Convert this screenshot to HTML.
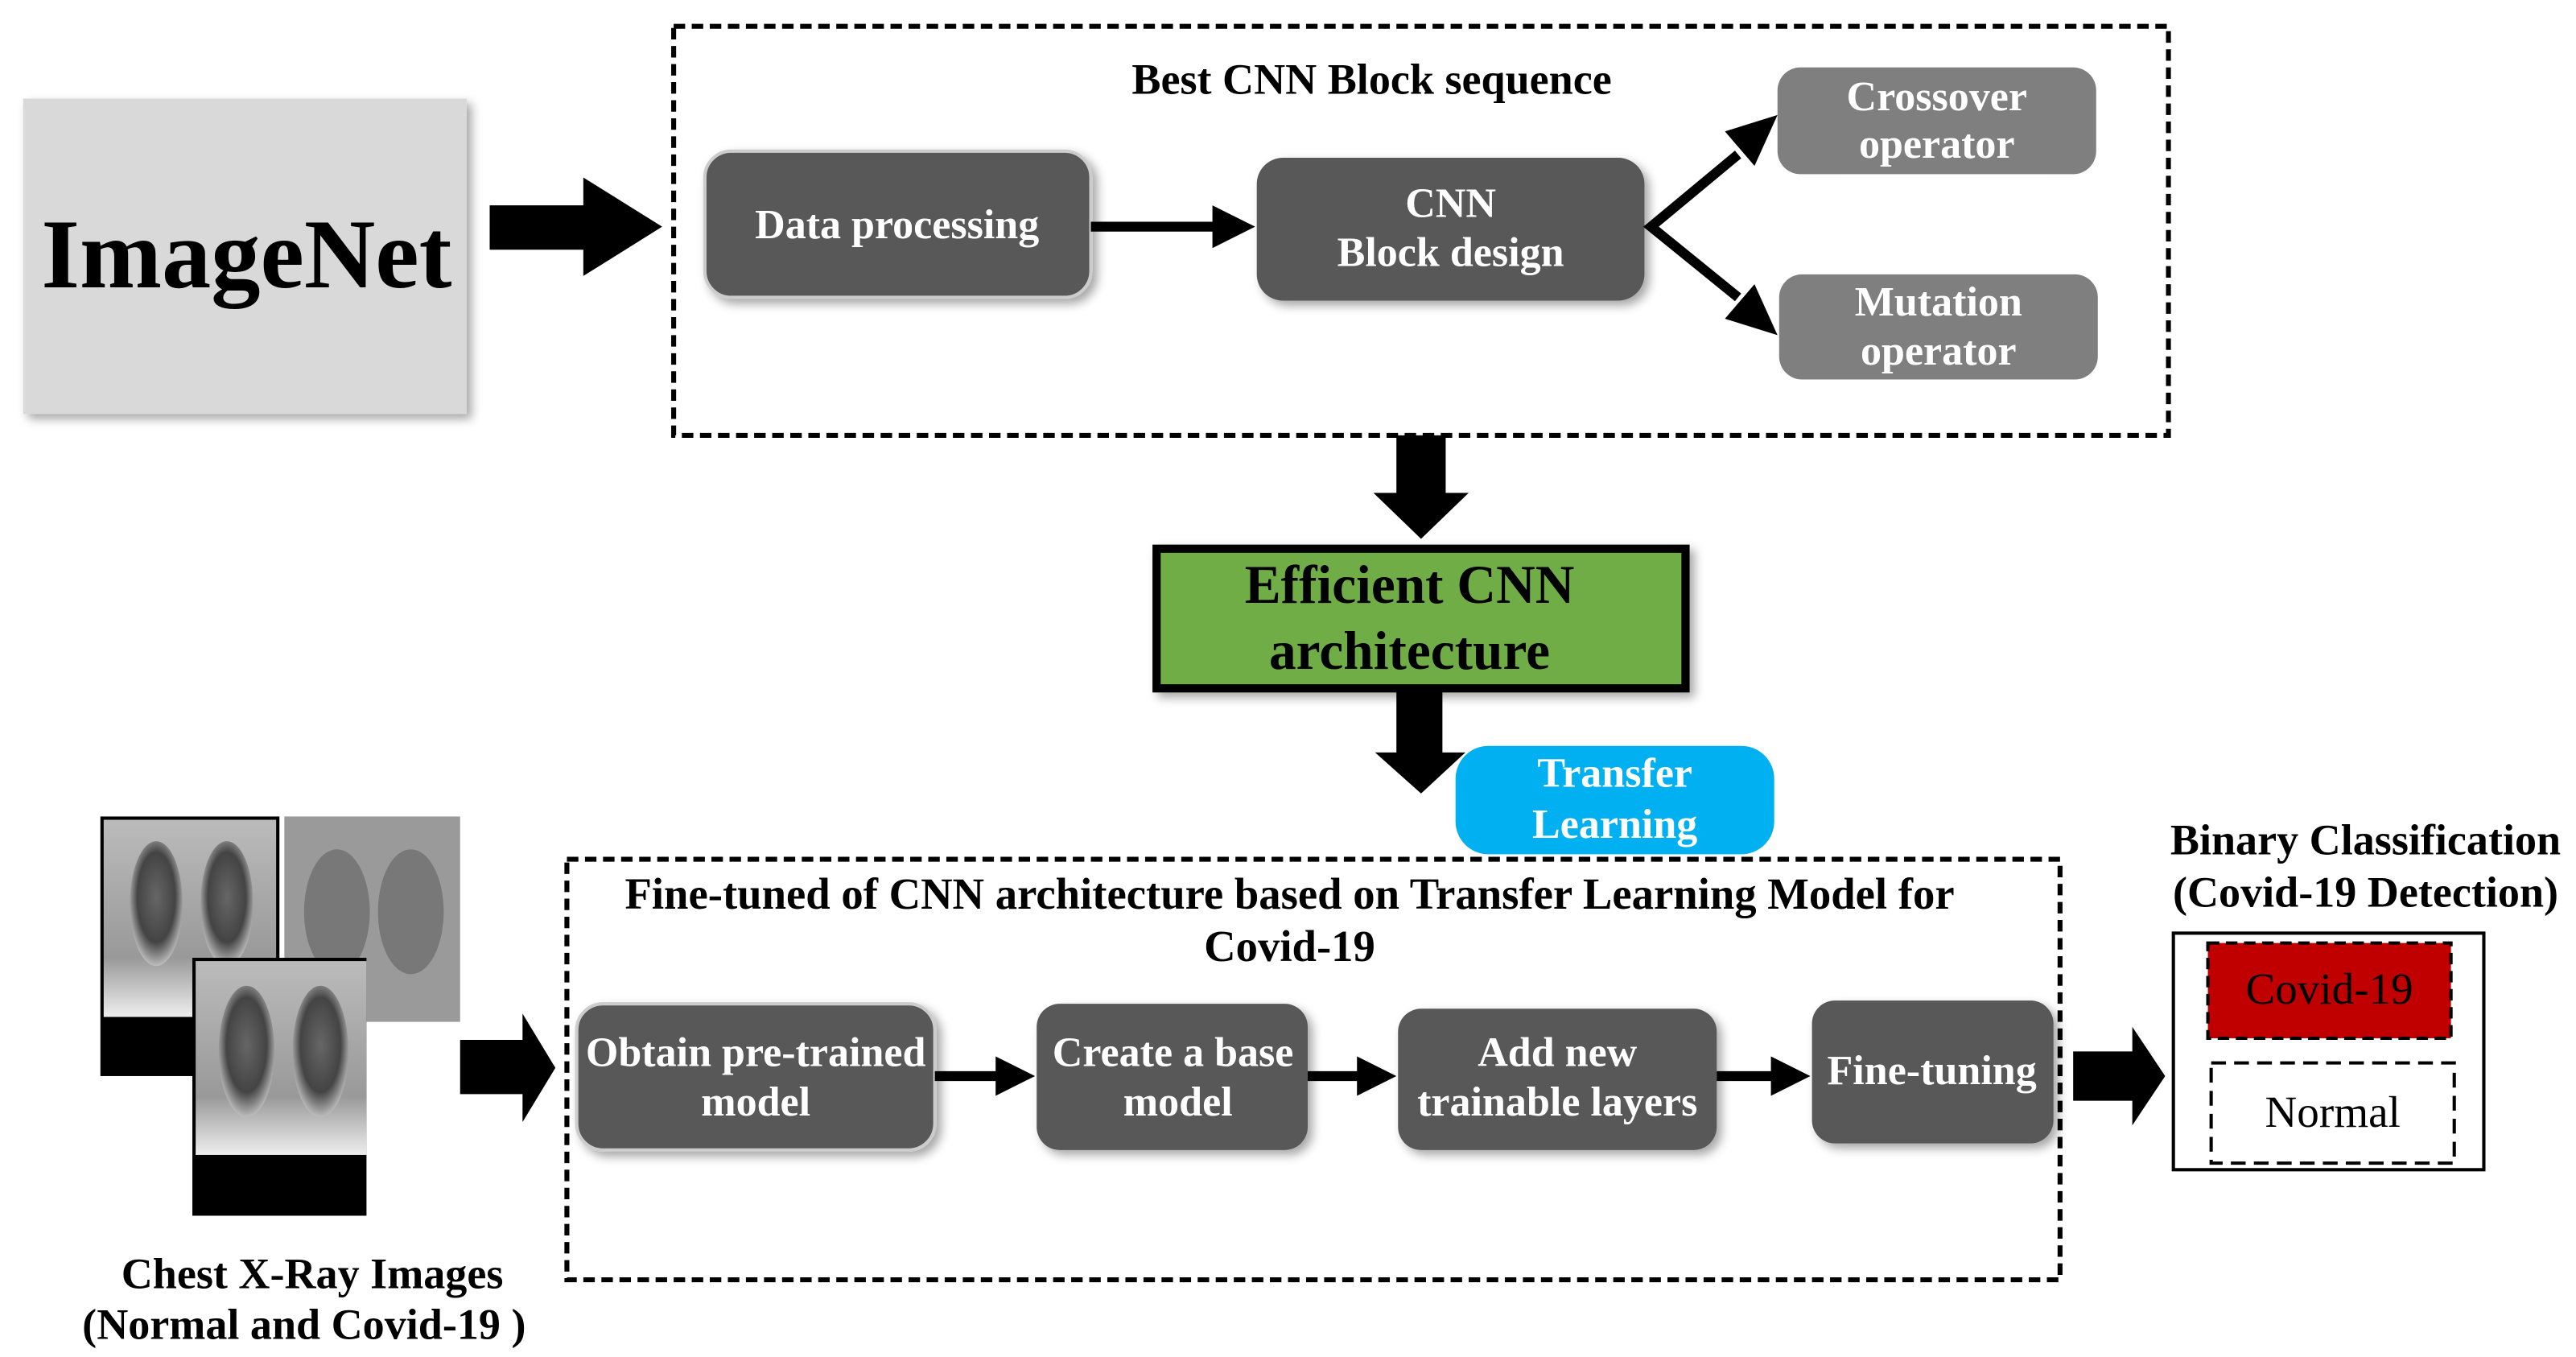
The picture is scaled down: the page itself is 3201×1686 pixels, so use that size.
<!DOCTYPE html>
<html><head><meta charset="utf-8"><style>
html,body{margin:0;padding:0;background:#fff;}
svg{display:block;}
text{font-family:"Liberation Serif",serif;}
</style></head><body>
<svg width="3201" height="1686" viewBox="0 0 1568 826" xmlns="http://www.w3.org/2000/svg">
<defs>
<filter id="sh" x="-10%" y="-10%" width="130%" height="130%"><feDropShadow dx="3" dy="3" stdDeviation="3" flood-color="#000" flood-opacity="0.35"/></filter>
<radialGradient id="lung" cx="50%" cy="45%" r="60%"><stop offset="0" stop-color="#666"/><stop offset="0.6" stop-color="#444"/><stop offset="1" stop-color="#ddd"/></radialGradient>
<linearGradient id="xr" x1="0" y1="0" x2="0" y2="1"><stop offset="0" stop-color="#bbb"/><stop offset="0.7" stop-color="#999"/><stop offset="1" stop-color="#eee"/></linearGradient>
</defs>
<rect width="1568" height="826" fill="#fff"/>

<!-- ImageNet -->
<rect x="14" y="60" width="270" height="192" fill="#d9d9d9" filter="url(#sh)"/>
<text x="150" y="175" font-size="60" font-weight="bold" text-anchor="middle">ImageNet</text>
<polygon points="298,125 355,125 355,108 403,138 355,168 355,152 298,152" fill="#000"/>

<!-- top dashed box -->
<rect x="410" y="16" width="910" height="249" fill="none" stroke="#000" stroke-width="3" stroke-dasharray="7,4"/>
<text x="835" y="57" font-size="26.5" font-weight="bold" text-anchor="middle">Best CNN Block sequence</text>

<rect x="429" y="92" width="235" height="89" rx="16" fill="#595959" stroke="#ccc" stroke-width="2" filter="url(#sh)"/>
<text x="546" y="145" font-size="25.5" font-weight="bold" fill="#fff" text-anchor="middle">Data processing</text>
<line x1="664" y1="138" x2="740" y2="138" stroke="#000" stroke-width="6"/>
<polygon points="738,125 764,138 738,151" fill="#000"/>

<rect x="765" y="96" width="236" height="87" rx="16" fill="#595959" filter="url(#sh)"/>
<text x="883" y="132" font-size="25.5" font-weight="bold" fill="#fff" text-anchor="middle">CNN</text>
<text x="883" y="162" font-size="25.5" font-weight="bold" fill="#fff" text-anchor="middle">Block design</text>

<polyline points="1058,94 1005,138 1058,181" fill="none" stroke="#000" stroke-width="6"/>
<polygon points="1050,80 1082,70 1068,101" fill="#000"/>
<polygon points="1050,194 1082,204 1068,173" fill="#000"/>

<rect x="1082" y="41" width="194" height="65" rx="14" fill="#7f7f7f"/>
<text x="1179" y="67" font-size="25.5" font-weight="bold" fill="#fff" text-anchor="middle">Crossover</text>
<text x="1179" y="96" font-size="25.5" font-weight="bold" fill="#fff" text-anchor="middle">operator</text>
<rect x="1083" y="167" width="194" height="64" rx="14" fill="#7f7f7f"/>
<text x="1180" y="192" font-size="25.5" font-weight="bold" fill="#fff" text-anchor="middle">Mutation</text>
<text x="1180" y="222" font-size="25.5" font-weight="bold" fill="#fff" text-anchor="middle">operator</text>

<!-- down arrow 1 -->
<polygon points="850,265 880,265 880,300 894,300 865,328 836,300 850,300" fill="#000"/>

<!-- green box -->
<rect x="704" y="334" width="322" height="85" fill="#70ad47" stroke="#000" stroke-width="5" filter="url(#sh)"/>
<text x="858" y="367" font-size="33" font-weight="bold" text-anchor="middle">Efficient CNN</text>
<text x="858" y="407" font-size="33" font-weight="bold" text-anchor="middle">architecture</text>

<!-- down arrow 2 -->
<polygon points="850,421 878,421 878,458 892,458 865,483 837,458 850,458" fill="#000"/>

<rect x="886" y="454" width="194" height="66" rx="20" fill="#00b0f0"/>
<text x="983" y="479" font-size="25.5" font-weight="bold" fill="#fff" text-anchor="middle">Transfer</text>
<text x="983" y="510" font-size="25.5" font-weight="bold" fill="#fff" text-anchor="middle">Learning</text>

<!-- bottom dashed box -->
<rect x="345" y="523" width="909" height="256" fill="none" stroke="#000" stroke-width="3" stroke-dasharray="7,4"/>
<text x="785" y="553" font-size="26.8" font-weight="bold" text-anchor="middle">Fine-tuned of CNN architecture based on Transfer Learning Model for</text>
<text x="785" y="585" font-size="26.8" font-weight="bold" text-anchor="middle">Covid-19</text>

<rect x="351" y="611" width="218" height="89" rx="16" fill="#595959" stroke="#ccc" stroke-width="2" filter="url(#sh)"/>
<text x="460" y="649" font-size="25.5" font-weight="bold" fill="#fff" text-anchor="middle">Obtain pre-trained</text>
<text x="460" y="679" font-size="25.5" font-weight="bold" fill="#fff" text-anchor="middle">model</text>
<line x1="569" y1="655" x2="610" y2="655" stroke="#000" stroke-width="6"/>
<polygon points="606,643 630,655 606,667" fill="#000"/>

<rect x="631" y="611" width="165" height="89" rx="14" fill="#595959" filter="url(#sh)"/>
<text x="714" y="649" font-size="25.5" font-weight="bold" fill="#fff" text-anchor="middle">Create a base</text>
<text x="717" y="679" font-size="25.5" font-weight="bold" fill="#fff" text-anchor="middle">model</text>
<line x1="796" y1="655" x2="830" y2="655" stroke="#000" stroke-width="6"/>
<polygon points="826,643 850,655 826,667" fill="#000"/>

<rect x="851" y="614" width="194" height="86" rx="14" fill="#595959" filter="url(#sh)"/>
<text x="948" y="649" font-size="25.5" font-weight="bold" fill="#fff" text-anchor="middle">Add new</text>
<text x="948" y="679" font-size="25.5" font-weight="bold" fill="#fff" text-anchor="middle">trainable layers</text>
<line x1="1045" y1="655" x2="1082" y2="655" stroke="#000" stroke-width="6"/>
<polygon points="1078,643 1102,655 1078,667" fill="#000"/>

<rect x="1103" y="609" width="147" height="87" rx="14" fill="#595959" filter="url(#sh)"/>
<text x="1176" y="660" font-size="25.5" font-weight="bold" fill="#fff" text-anchor="middle">Fine-tuning</text>

<!-- x-rays -->
<rect x="61" y="497" width="109" height="158" fill="#000"/>
<rect x="63" y="499" width="105" height="120" fill="url(#xr)"/>
<ellipse cx="95" cy="550" rx="16" ry="38" fill="url(#lung)"/>
<ellipse cx="138" cy="550" rx="16" ry="38" fill="url(#lung)"/>
<rect x="173" y="497" width="107" height="125" fill="#9a9a9a"/>
<ellipse cx="205" cy="555" rx="20" ry="38" fill="#6a6a6a" opacity="0.7"/>
<ellipse cx="250" cy="555" rx="20" ry="38" fill="#6a6a6a" opacity="0.7"/>
<rect x="117" y="583" width="106" height="157" fill="#000"/>
<rect x="119" y="585" width="104" height="118" fill="url(#xr)"/>
<ellipse cx="150" cy="640" rx="17" ry="40" fill="url(#lung)"/>
<ellipse cx="195" cy="640" rx="17" ry="40" fill="url(#lung)"/>
<text x="190" y="784" font-size="26.5" font-weight="bold" text-anchor="middle">Chest X-Ray Images</text>
<text x="185" y="815" font-size="26.5" font-weight="bold" text-anchor="middle">(Normal and Covid-19 )</text>
<polygon points="280,633 318,633 318,617 338,650 318,683 318,666 280,666" fill="#000"/>

<!-- right -->
<polygon points="1262,640 1298,640 1298,625 1318,655 1298,685 1298,670 1262,670" fill="#000"/>
<text x="1440" y="520" font-size="26.5" font-weight="bold" text-anchor="middle">Binary Classification</text>
<text x="1440" y="552" font-size="26.5" font-weight="bold" text-anchor="middle">(Covid-19 Detection)</text>
<rect x="1323" y="568" width="189" height="144" fill="none" stroke="#000" stroke-width="2"/>
<rect x="1344" y="574" width="148" height="58" fill="#c00000" stroke="#000" stroke-width="2" stroke-dasharray="7,4"/>
<text x="1418" y="611" font-size="27" text-anchor="middle">Covid-19</text>
<rect x="1346" y="647" width="148" height="61" fill="#fff" stroke="#000" stroke-width="2" stroke-dasharray="9,5"/>
<text x="1420" y="686" font-size="27" text-anchor="middle">Normal</text>
</svg>
</body></html>
